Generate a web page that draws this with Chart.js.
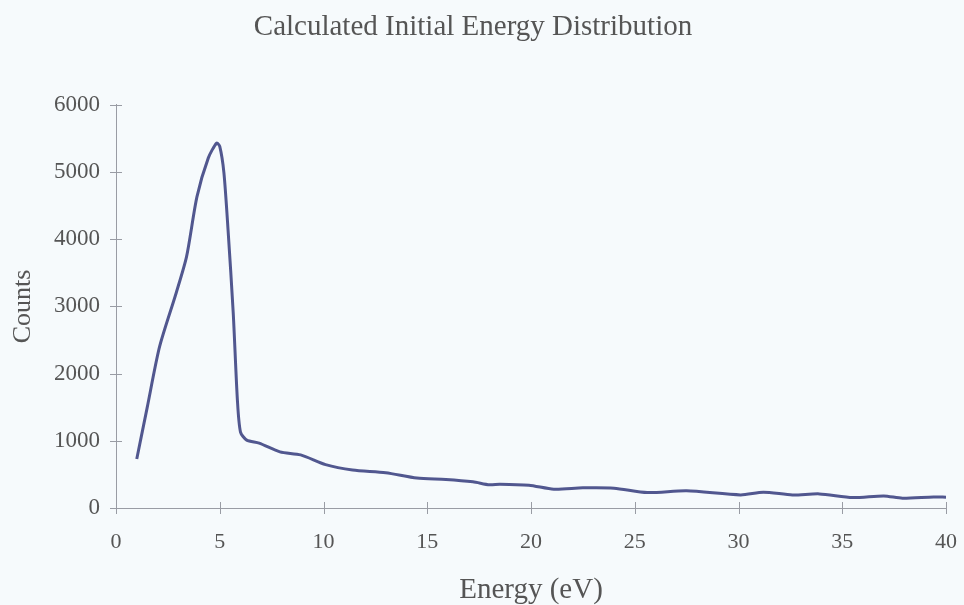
<!DOCTYPE html>
<html>
<head>
<meta charset="utf-8">
<script src="https://cdn.jsdelivr.net/npm/chart.js@4.4.1/dist/chart.umd.min.js"></script>
<style>
  html, body { margin: 0; padding: 0; background: #f6fafc; }
  #wrap { width: 964px; height: 605px; }
</style>
</head>
<body>
<div id="wrap"><canvas id="energyChart" width="964" height="605"></canvas></div>
<script>
// energy (eV) and counts
let energy = [1.0, 1.5, 2.1, 2.9, 3.4, 3.9, 4.45, 4.85, 5.0, 5.2, 5.4, 5.65, 5.85, 6.0, 6.3, 6.9, 7.9, 8.9,
    10.1, 11.4, 13.0, 14.5, 15.9, 17.2, 18.0, 18.5, 19.9, 21.1, 22.5, 24.0, 25.6, 27.5, 30.1, 31.2,
    32.6, 33.9, 35.5, 37.0, 37.9, 39.4, 40.0];
let counts = [730, 1490, 2400, 3200, 3740, 4630, 5210, 5430, 5380, 4990, 4140, 2900, 1610, 1130, 1010, 965, 835, 790,
    645, 565, 525, 445, 425, 390, 345, 355, 340, 280, 300, 295, 230, 255, 195, 235,
    195, 210, 155, 180, 145, 165, 160];
let xTicks = [0, 5, 10, 15, 20, 25, 30, 35, 40];
let yTicks = [0, 1000, 2000, 3000, 4000, 5000, 6000];

const axisColor = '#999ca4';
const textColor = '#555555';
const serif = "'Liberation Serif', 'Times New Roman', serif";

// small tick marks that cross the axis line, like the original
const crossTicks = {
    id: 'crossTicks',
    afterDraw(chart) {
        const ctx = chart.ctx;
        const xs = chart.scales.x, ys = chart.scales.y;
        ctx.save();
        ctx.strokeStyle = axisColor;
        ctx.lineWidth = 1;
        xs.ticks.forEach(t => {
            const px = Math.round(xs.getPixelForValue(t.value)) + 0.5;
            ctx.beginPath();
            ctx.moveTo(px, ys.bottom - 6);
            ctx.lineTo(px, ys.bottom + 6);
            ctx.stroke();
        });
        ys.ticks.forEach(t => {
            const py = Math.round(ys.getPixelForValue(t.value)) + 0.5;
            ctx.beginPath();
            ctx.moveTo(xs.left - 6, py);
            ctx.lineTo(xs.left + 6, py);
            ctx.stroke();
        });
        ctx.restore();
    }
};

let ctx = document.getElementById('energyChart').getContext('2d');
let chart = new Chart(ctx, {
    type: 'scatter',
    data: {
        datasets: [{
            data: energy.map((e, i) => ({ x: e, y: counts[i] })),
            showLine: true,
            borderColor: '#51578f',
            borderWidth: 3,
            pointRadius: 0,
            tension: 0.25
        }]
    },
    options: {
        responsive: false,
        animation: false,
        layout: { padding: { left: 0, right: 18, top: 0, bottom: 0 } },
        plugins: {
            legend: { display: false },
            tooltip: { enabled: false },
            title: {
                display: true,
                text: 'Calculated Initial Energy Distribution',
                color: textColor,
                font: { family: serif, size: 29, weight: 'normal', lineHeight: 1.2 },
                padding: { top: 10, bottom: 60 }
            }
        },
        scales: {
            x: {
                type: 'linear',
                min: 0,
                max: 40,
                afterBuildTicks(scale) { scale.ticks = xTicks.map(v => ({ value: v })); },
                afterFit(scale) { scale.height = 97; },
                grid: { display: true, drawOnChartArea: false, drawTicks: true, tickLength: 20, tickColor: 'rgba(0,0,0,0)' },
                border: { display: true, color: axisColor, width: 1 },
                ticks: {
                    color: textColor,
                    padding: 1,
                    font: { family: serif, size: 22 }
                },
                title: {
                    display: true,
                    text: 'Energy (eV)',
                    color: textColor,
                    font: { family: serif, size: 29, lineHeight: 1 },
                    padding: 0
                }
            },
            y: {
                min: 0,
                max: 6000,
                afterBuildTicks(scale) { scale.ticks = yTicks.map(v => ({ value: v })); },
                afterFit(scale) { scale.width = 116; },
                grid: { display: true, drawOnChartArea: false, drawTicks: false },
                border: { display: true, color: axisColor, width: 1 },
                ticks: {
                    color: textColor,
                    padding: 16,
                    font: { family: serif, size: 23 },
                    callback: v => String(v)
                },
                title: {
                    display: true,
                    text: 'Counts',
                    color: textColor,
                    font: { family: serif, size: 26, lineHeight: 1 },
                    padding: { top: 10, bottom: 0 }
                }
            }
        }
    },
    plugins: [crossTicks]
});
</script>
</body>
</html>
